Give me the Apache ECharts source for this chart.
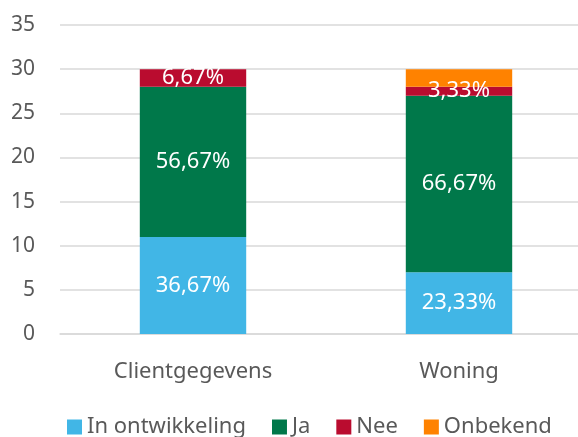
<!DOCTYPE html>
<html>
<head>
<meta charset="utf-8">
<script src="https://cdn.jsdelivr.net/npm/echarts@6/dist/echarts.min.js"></script>
<style>
  html, body { margin: 0; padding: 0; background: #fff; }
  #chart { width: 578px; height: 437px; }
</style>
</head>
<body>
<div id="chart"></div>
<script>
// data
var categories = ['Clientgegevens', 'Woning'];
var inOntwikkeling = [11, 7];
var ja = [17, 20];
var nee = [2, 1];
var onbekend = [0, 2];
var yTicks = { min: 0, max: 35, interval: 5 };

var totals = categories.map(function (c, i) {
    return inOntwikkeling[i] + ja[i] + nee[i] + onbekend[i];
});

var chart = echarts.init(document.getElementById('chart'));
var fontFam = '"Noto Sans", "Open Sans", sans-serif';

function pctLabel(p) {
    var pct = p.value / totals[p.dataIndex] * 100;
    return pct.toFixed(2).replace('.', ',') + '%';
}

function mkSeries(name, data, color, showLabel) {
    return {
        name: name,
        type: 'bar',
        stack: 'total',
        barWidth: '40%',
        data: data,
        itemStyle: { color: color },
        label: {
            show: showLabel,
            position: 'inside',
            color: '#fff',
            fontSize: 22,
            fontFamily: fontFam,
            formatter: pctLabel
        }
    };
}

var option = {
    backgroundColor: '#FFFFFF',
    animation: false,
    grid: {
        left: 60,
        width: 532,
        top: 25,
        bottom: 103,
        outerBoundsMode: 'none'
    },
    legend: {
        data: ['In ontwikkeling', 'Ja', 'Nee', 'Onbekend'],
        top: 411,
        left: 62,
        itemWidth: 15,
        itemHeight: 15,
        itemGap: 26,
        icon: 'rect',
        textStyle: { color: '#595959', fontSize: 22, fontFamily: fontFam }
    },
    xAxis: {
        type: 'category',
        data: categories,
        axisLine: { lineStyle: { color: '#d9d9d9', width: 1.5 } },
        axisTick: { show: false },
        axisLabel: { color: '#595959', fontSize: 22, fontFamily: fontFam, margin: 27 }
    },
    yAxis: {
        type: 'value',
        min: yTicks.min,
        max: yTicks.max,
        interval: yTicks.interval,
        axisLine: { show: false },
        axisTick: { show: false },
        splitLine: { lineStyle: { color: '#d9d9d9', width: 1.5 } },
        axisLabel: { color: '#595959', fontSize: 21, fontFamily: fontFam, margin: 25 }
    },
    series: [
        mkSeries('In ontwikkeling', inOntwikkeling, '#41B6E6', true),
        mkSeries('Ja', ja, '#00784A', true),
        mkSeries('Nee', nee, '#BA0C2F', true),
        mkSeries('Onbekend', onbekend, '#FF8200', false)
    ]
};

chart.setOption(option);
window.onresize = function () {
    chart.resize();
};
</script>
</body>
</html>
